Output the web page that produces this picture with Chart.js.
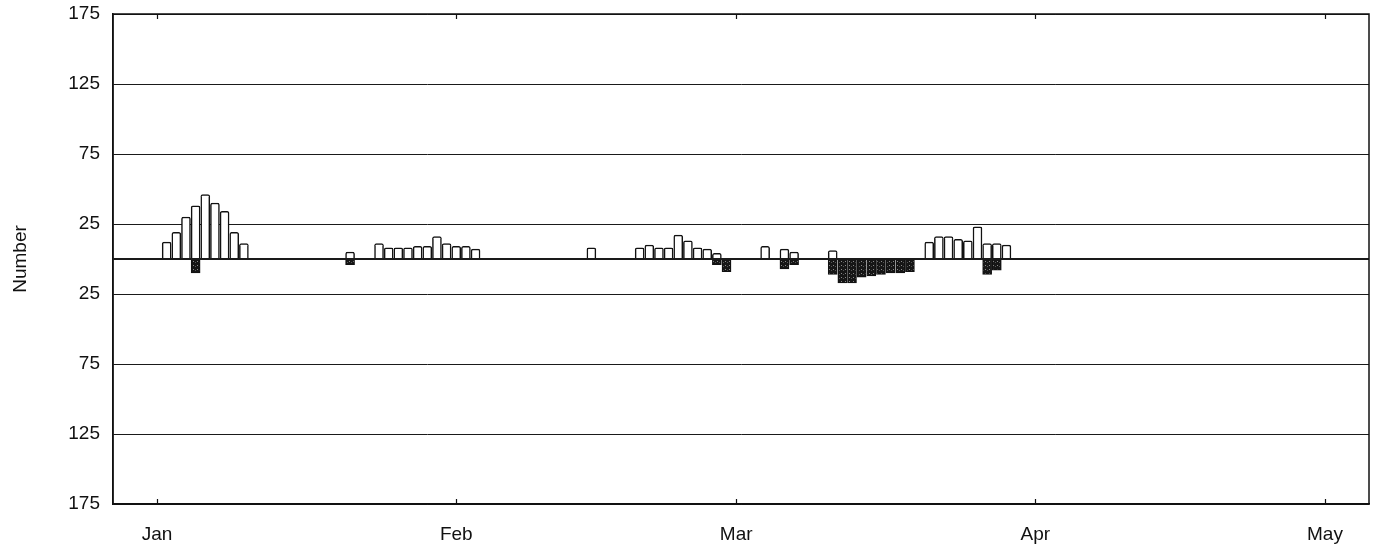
<!DOCTYPE html>
<html>
<head>
<meta charset="utf-8">
<script src="https://cdn.jsdelivr.net/npm/chart.js@4/dist/chart.umd.min.js"></script>
<style>
  html, body { margin: 0; padding: 0; background: #fff; }
  canvas { display: block; }
</style>
</head>
<body>
<canvas id="chart" width="1376" height="552"></canvas>
<script>
// Month ticks: label and day offset from 1 January (leap year)
const monthLabels = ['Jan', 'Feb', 'Mar', 'Apr', 'May'];
const monthStartDays = [0, 31, 60, 91, 121];

// Y ticks (labels shown as absolute values above and below zero)
const yTickValues = [-175, -125, -75, -25, 0, 25, 75, 125, 175];

// Daily counts above the line (day offset from 1 January)
const upDays = [1, 2, 3, 4, 5, 6, 7, 8, 9,
                20,
                23, 24, 25, 26, 27, 28, 29, 30, 31, 32, 33,
                45,
                50, 51, 52, 53, 54, 55, 56, 57, 58,
                63, 65, 66, 70,
                80, 81, 82, 83, 84, 85, 86, 87, 88];
const upCounts = [12, 19, 30, 38, 46, 40, 34, 19, 11,
                  5,
                  11, 8, 8, 8, 9, 9, 16, 11, 9, 9, 7,
                  8,
                  8, 10, 8, 8, 17, 13, 8, 7, 4,
                  9, 7, 5, 6,
                  12, 16, 16, 14, 13, 23, 11, 11, 10];

// Daily counts below the line
const downDays = [4, 20, 58, 59, 65, 66,
                  70, 71, 72, 73, 74, 75, 76, 77, 78,
                  86, 87];
const downCounts = [-10, -4, -4, -9, -7, -4,
                    -11, -17, -17, -13, -12, -11, -10, -10, -9,
                    -11, -8];

const FONT = '"Liberation Sans", Arial, Helvetica, sans-serif';

// Speckled dark fill for the lower bars
function speckle() {
  const p = document.createElement('canvas');
  p.width = 4; p.height = 4;
  const g = p.getContext('2d');
  g.fillStyle = '#161616';
  g.fillRect(0, 0, 4, 4);
  g.fillStyle = '#8a8a8a';
  g.fillRect(1, 1, 1, 1);
  g.fillStyle = '#555555';
  g.fillRect(3, 2, 1, 1);
  return g.createPattern(p, 'repeat');
}

// Box around the plot and short inward month ticks on top and bottom edges
const framePlugin = {
  id: 'frame',
  afterDatasetsDraw(chart) {
    const { ctx, chartArea: a, scales: { x } } = chart;
    ctx.save();
    ctx.strokeStyle = '#111';
    ctx.lineWidth = 1.5;
    ctx.strokeRect(a.left, a.top, a.right - a.left, a.bottom - a.top);
    ctx.lineWidth = 1.2;
    ctx.beginPath();
    x.ticks.forEach(t => {
      const px = Math.round(x.getPixelForValue(t.value)) + 0.5;
      ctx.moveTo(px, a.bottom);
      ctx.lineTo(px, a.bottom - 5);
      ctx.moveTo(px, a.top);
      ctx.lineTo(px, a.top + 5);
    });
    ctx.stroke();
    ctx.restore();
  }
};

const ctx = document.getElementById('chart').getContext('2d');

new Chart(ctx, {
  type: 'bar',
  data: {
    datasets: [
      {
        data: upDays.map((d, i) => ({ x: d, y: upCounts[i] })),
        backgroundColor: '#ffffff',
        borderColor: '#111111',
        borderWidth: 1.5,
        borderRadius: { topLeft: 2, topRight: 2 },
        borderSkipped: 'start',
        barThickness: 9,
        grouped: false
      },
      {
        data: downDays.map((d, i) => ({ x: d, y: downCounts[i] })),
        backgroundColor: speckle(),
        borderColor: '#111111',
        borderWidth: 1.2,
        borderSkipped: 'start',
        barThickness: 9,
        grouped: false
      }
    ]
  },
  options: {
    responsive: false,
    animation: false,
    events: [],
    layout: { padding: { top: 14, right: 7, left: 0, bottom: 0 } },
    plugins: {
      legend: { display: false },
      tooltip: { enabled: false }
    },
    scales: {
      x: {
        type: 'linear',
        offset: false,
        min: -4.56,
        max: 125.56,
        afterBuildTicks: s => { s.ticks = monthStartDays.map(v => ({ value: v })); },
        afterFit: s => { s.height = 48; s.paddingLeft = 0; s.paddingRight = 0; },
        ticks: {
          autoSkip: false,
          maxRotation: 0,
          padding: 19,
          color: '#111',
          font: { family: FONT, size: 19 },
          callback: v => monthLabels[monthStartDays.indexOf(v)]
        },
        grid: { display: false, drawTicks: false },
        border: { display: true, color: '#111', width: 1.5 }
      },
      y: {
        min: -175,
        max: 175,
        afterBuildTicks: s => { s.ticks = yTickValues.map(v => ({ value: v })); },
        afterFit: s => { s.width = 113; s.paddingTop = 0; s.paddingBottom = 0; },
        ticks: {
          padding: 13,
          color: '#111',
          font: { family: FONT, size: 19 },
          callback: v => (v === 0 ? '' : String(Math.abs(v)))
        },
        grid: {
          drawTicks: false,
          color: '#1a1a1a',
          lineWidth: c => (c.tick && c.tick.value === 0 ? 2 : 1)
        },
        border: { display: true, color: '#111', width: 1.5 },
        title: {
          display: true,
          text: 'Number',
          color: '#111',
          font: { family: FONT, size: 19 },
          padding: { top: 9, bottom: 0 }
        }
      }
    }
  },
  plugins: [framePlugin]
});
</script>
</body>
</html>
